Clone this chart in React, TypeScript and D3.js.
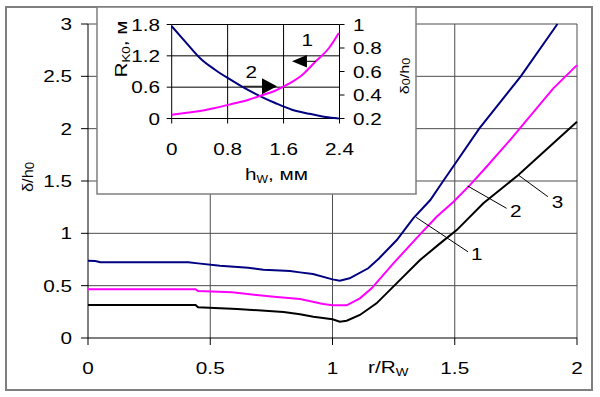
import * as d3 from 'd3';

// main chart: delta/h0 vs r/Rw
const navyX = [0, 0.03, 0.05, 0.41, 0.45, 0.54, 0.655, 0.717, 0.785, 0.826, 0.867, 0.92, 1.0, 1.03, 1.07, 1.146, 1.19, 1.263, 1.33, 1.4, 1.45, 1.5, 1.6, 1.77, 1.92];
const navyY = [0.738, 0.735, 0.723, 0.723, 0.713, 0.69, 0.672, 0.652, 0.645, 0.64, 0.627, 0.611, 0.56, 0.547, 0.57, 0.666, 0.76, 0.936, 1.143, 1.318, 1.49, 1.66, 2.0, 2.5, 3.0];
const pinkX = [0, 0.44, 0.45, 0.59, 0.69, 0.76, 0.867, 0.962, 1.0, 1.058, 1.112, 1.16, 1.249, 1.358, 1.426, 1.494, 1.562, 1.63, 1.726, 1.903, 2.0];
const pinkY = [0.465, 0.465, 0.449, 0.436, 0.41, 0.395, 0.372, 0.325, 0.312, 0.312, 0.379, 0.475, 0.713, 0.99, 1.159, 1.3, 1.461, 1.636, 1.891, 2.385, 2.607];
const blackX = [0, 0.44, 0.45, 0.61, 0.8, 0.867, 0.922, 1.0, 1.03, 1.058, 1.112, 1.18, 1.262, 1.358, 1.44, 1.508, 1.617, 1.76, 1.903, 2.0];
const blackY = [0.315, 0.315, 0.293, 0.277, 0.248, 0.226, 0.204, 0.179, 0.156, 0.165, 0.22, 0.331, 0.522, 0.745, 0.904, 1.031, 1.287, 1.557, 1.86, 2.066];

const xTicks = [0, 0.5, 1, 1.5, 2];
const yTicks = [0, 0.5, 1, 1.5, 2, 2.5, 3];

// curve number labels: [leader start x, y, leader end x, y, text x, text baseline y]
const curveLabels: [string, number, number, number, number, number, number][] = [
  ['1', 1.342, 1.153, 1.554, 0.824, 1.59, 0.745],
  ['2', 1.553, 1.452, 1.712, 1.239, 1.75, 1.156],
  ['3', 1.76, 1.557, 1.881, 1.35, 1.92, 1.242],
];

// inset: R_K0 (left axis) and delta0/h0 (right axis) vs h_w
const insetH1 = [0, 0.19, 0.38, 0.62, 0.86, 1.1, 1.29, 1.48, 1.67, 1.87, 2.06, 2.25, 2.39];
const insetR = [0.073, 0.105, 0.138, 0.201, 0.278, 0.36, 0.444, 0.532, 0.661, 0.839, 1.095, 1.35, 1.637];
const insetH2 = [0, 0.19, 0.43, 0.62, 0.8, 1.0, 1.27, 1.48, 1.72, 1.96, 2.2, 2.39];
const insetD = [0.985, 0.857, 0.7, 0.615, 0.545, 0.474, 0.389, 0.332, 0.275, 0.241, 0.213, 0.2];

const ixTicks = [0, 0.8, 1.6, 2.4];
const ixLabels = ['0', '0.8', '1.6', '2.4'];
const iyLTicks = [0, 0.6, 1.2, 1.8];
const iyLLabels = ['0', '0.6', '1.2', '1.8'];
const iyRTicks = [0.2, 0.4, 0.6, 0.8, 1];
const iyRLabels = ['0.2', '0.4', '0.6', '0.8', '1'];

const FONT = '"Liberation Sans", Arial, sans-serif';
const SX = 1.22;

function T({ x, y, anchor = 'start', size = 17, rot = 0, sx = SX, children }: any) {
  return (
    <text
      transform={`translate(${x},${y}) rotate(${rot}) scale(${sx},1)`}
      textAnchor={anchor}
      fontSize={size}
      fontFamily={FONT}
      fill="#000"
    >
      {children}
    </text>
  );
}

export default function App() {
  const x = d3.scaleLinear().domain([0, 2]).range([88, 577]);
  const y = d3.scaleLinear().domain([0, 3]).range([338, 24]);

  const ix = d3.scaleLinear().domain([0, 2.4]).range([171.7, 339.5]);
  const iyL = d3.scaleLinear().domain([0, 1.8]).range([118.5, 24.5]);
  const iyR = d3.scaleLinear().domain([0.2, 1]).range([118.5, 24.5]);

  const mainLine = d3.line<[number, number]>().x(d => x(d[0])).y(d => y(d[1]));
  const zip = (a: number[], b: number[]) => a.map((v, i) => [v, b[i]] as [number, number]);

  const insetLineL = d3.line<[number, number]>().x(d => ix(d[0])).y(d => iyL(d[1])).curve(d3.curveMonotoneX);
  const insetLineR = d3.line<[number, number]>().x(d => ix(d[0])).y(d => iyR(d[1])).curve(d3.curveMonotoneX);

  const grid = '#4d4d4d';

  // arrows in inset, in data units (h, R)
  const arrows = [
    { from: 2.06, to: 1.72, r: 1.095, label: '1', lx: 1.94, ly: 1.383, half: 6.3 },
    { from: 1.027, to: 1.506, r: 0.617, label: '2', lx: 1.137, ly: 0.776, half: 8 },
  ];

  return (
    <svg width={600} height={397} style={{ position: 'absolute', left: 0, top: 0, background: '#fff' }}>
      <rect x={6} y={7} width={586} height={383} fill="#fff" stroke="#7f7f7f" strokeWidth={2} />

      {/* main grid */}
      {yTicks.filter(t => t > 0).map(t => (
        <line key={'gy' + t} x1={x(0)} x2={x(2)} y1={y(t)} y2={y(t)} stroke={grid} strokeWidth={1} />
      ))}
      {xTicks.filter(t => t > 0).map(t => (
        <line key={'gx' + t} x1={x(t)} x2={x(t)} y1={y(0)} y2={y(3)} stroke={grid} strokeWidth={1} />
      ))}

      {/* main axes */}
      <line x1={x(0)} x2={x(0)} y1={y(0)} y2={y(3)} stroke="#000" />
      <line x1={x(0)} x2={x(2)} y1={y(0)} y2={y(0)} stroke="#000" />
      {yTicks.map(t => (
        <g key={'ty' + t}>
          <line x1={x(0) - 7} x2={x(0)} y1={y(t)} y2={y(t)} stroke="#000" />
          <T x={72} y={y(t) + 6} anchor="end">{String(t)}</T>
        </g>
      ))}
      {xTicks.map(t => (
        <g key={'tx' + t}>
          <line x1={x(t)} x2={x(t)} y1={y(0)} y2={y(0) + 7} stroke="#000" />
          <T x={x(t)} y={374} anchor="middle">{String(t)}</T>
        </g>
      ))}
      <T x={368} y={373}>
        r/R<tspan fontSize={11} dy={3}>W</tspan>
      </T>
      <T x={33} y={177} anchor="middle" rot={-90} size={15} sx={1.1}>
        δ/h<tspan fontSize={12} dy={1}>0</tspan>
      </T>

      {/* main curves */}
      <path d={mainLine(zip(blackX, blackY)) || ''} fill="none" stroke="#000" strokeWidth={2} />
      <path d={mainLine(zip(pinkX, pinkY)) || ''} fill="none" stroke="#ff00ff" strokeWidth={2} />
      <path d={mainLine(zip(navyX, navyY)) || ''} fill="none" stroke="#000080" strokeWidth={2} />

      {curveLabels.map(([lab, x1, y1, x2, y2, tx, ty]) => (
        <g key={'cl' + lab}>
          <line x1={x(x1)} y1={y(y1)} x2={x(x2)} y2={y(y2)} stroke="#000" strokeWidth={1} />
          <T x={x(tx)} y={y(ty)} anchor="middle">{lab}</T>
        </g>
      ))}

      {/* inset */}
      <rect x={97} y={7} width={319} height={187} fill="#fff" stroke="#7f7f7f" strokeWidth={1.5} />
      {[0.6, 1.2, 1.8].map(t => (
        <line key={'igy' + t} x1={ix(0)} x2={ix(2.4)} y1={iyL(t)} y2={iyL(t)} stroke="#000" />
      ))}
      {[0.8, 1.6].map(t => (
        <line key={'igx' + t} x1={ix(t)} x2={ix(t)} y1={iyL(0)} y2={iyL(1.8)} stroke="#000" />
      ))}
      <line x1={ix(0)} x2={ix(0)} y1={iyL(0)} y2={iyL(1.8)} stroke="#000" />
      <line x1={ix(2.4)} x2={ix(2.4)} y1={iyL(0)} y2={iyL(1.8)} stroke="#000" />
      <line x1={ix(0)} x2={ix(2.4)} y1={iyL(0)} y2={iyL(0)} stroke="#000" />
      {iyLTicks.map((t, i) => (
        <g key={'ily' + t}>
          <line x1={ix(0) - 5} x2={ix(0)} y1={iyL(t)} y2={iyL(t)} stroke="#000" />
          <T x={160} y={iyL(t) + 6} anchor="end">{iyLLabels[i]}</T>
        </g>
      ))}
      {iyRTicks.map((t, i) => (
        <g key={'iry' + t}>
          <line x1={ix(2.4)} x2={ix(2.4) + 5} y1={iyR(t)} y2={iyR(t)} stroke="#000" />
          <T x={353} y={iyR(t) + 6}>{iyRLabels[i]}</T>
        </g>
      ))}
      {ixTicks.map((t, i) => (
        <g key={'ix' + t}>
          <line x1={ix(t)} x2={ix(t)} y1={iyL(0)} y2={iyL(0) + 5} stroke="#000" />
          <T x={ix(t)} y={155} anchor="middle">{ixLabels[i]}</T>
        </g>
      ))}
      <T x={245} y={180}>
        h<tspan fontSize={10} dy={3}>W</tspan>
        <tspan dy={-3}>, мм</tspan>
      </T>
      <T x={127} y={49} anchor="middle" rot={-90}>
        R<tspan fontSize={11} dy={3}>K0</tspan>
        <tspan dy={-3}>, м</tspan>
      </T>
      <T x={409} y={76} anchor="middle" rot={-90} size={13} sx={1.25}>
        δ<tspan fontSize={10} dy={1}>0</tspan>
        <tspan dy={-1}>/h</tspan>
        <tspan fontSize={10} dy={1}>0</tspan>
      </T>

      <path d={insetLineR(zip(insetH2, insetD)) || ''} fill="none" stroke="#000080" strokeWidth={2} />
      <path d={insetLineL(zip(insetH1, insetR)) || ''} fill="none" stroke="#ff00ff" strokeWidth={2} />

      {arrows.map(a => {
        const tip = ix(a.to);
        const dir = a.from > a.to ? 1 : -1;
        const base = tip + dir * 15;
        const yy = iyL(a.r);
        return (
          <g key={'ar' + a.label}>
            <line x1={ix(a.from)} x2={base} y1={yy} y2={yy} stroke="#000" strokeWidth={1} />
            <polygon points={`${tip},${yy} ${base},${yy - a.half} ${base},${yy + a.half}`} fill="#000" />
            <T x={ix(a.lx)} y={iyL(a.ly)} anchor="middle">{a.label}</T>
          </g>
        );
      })}
    </svg>
  );
}
